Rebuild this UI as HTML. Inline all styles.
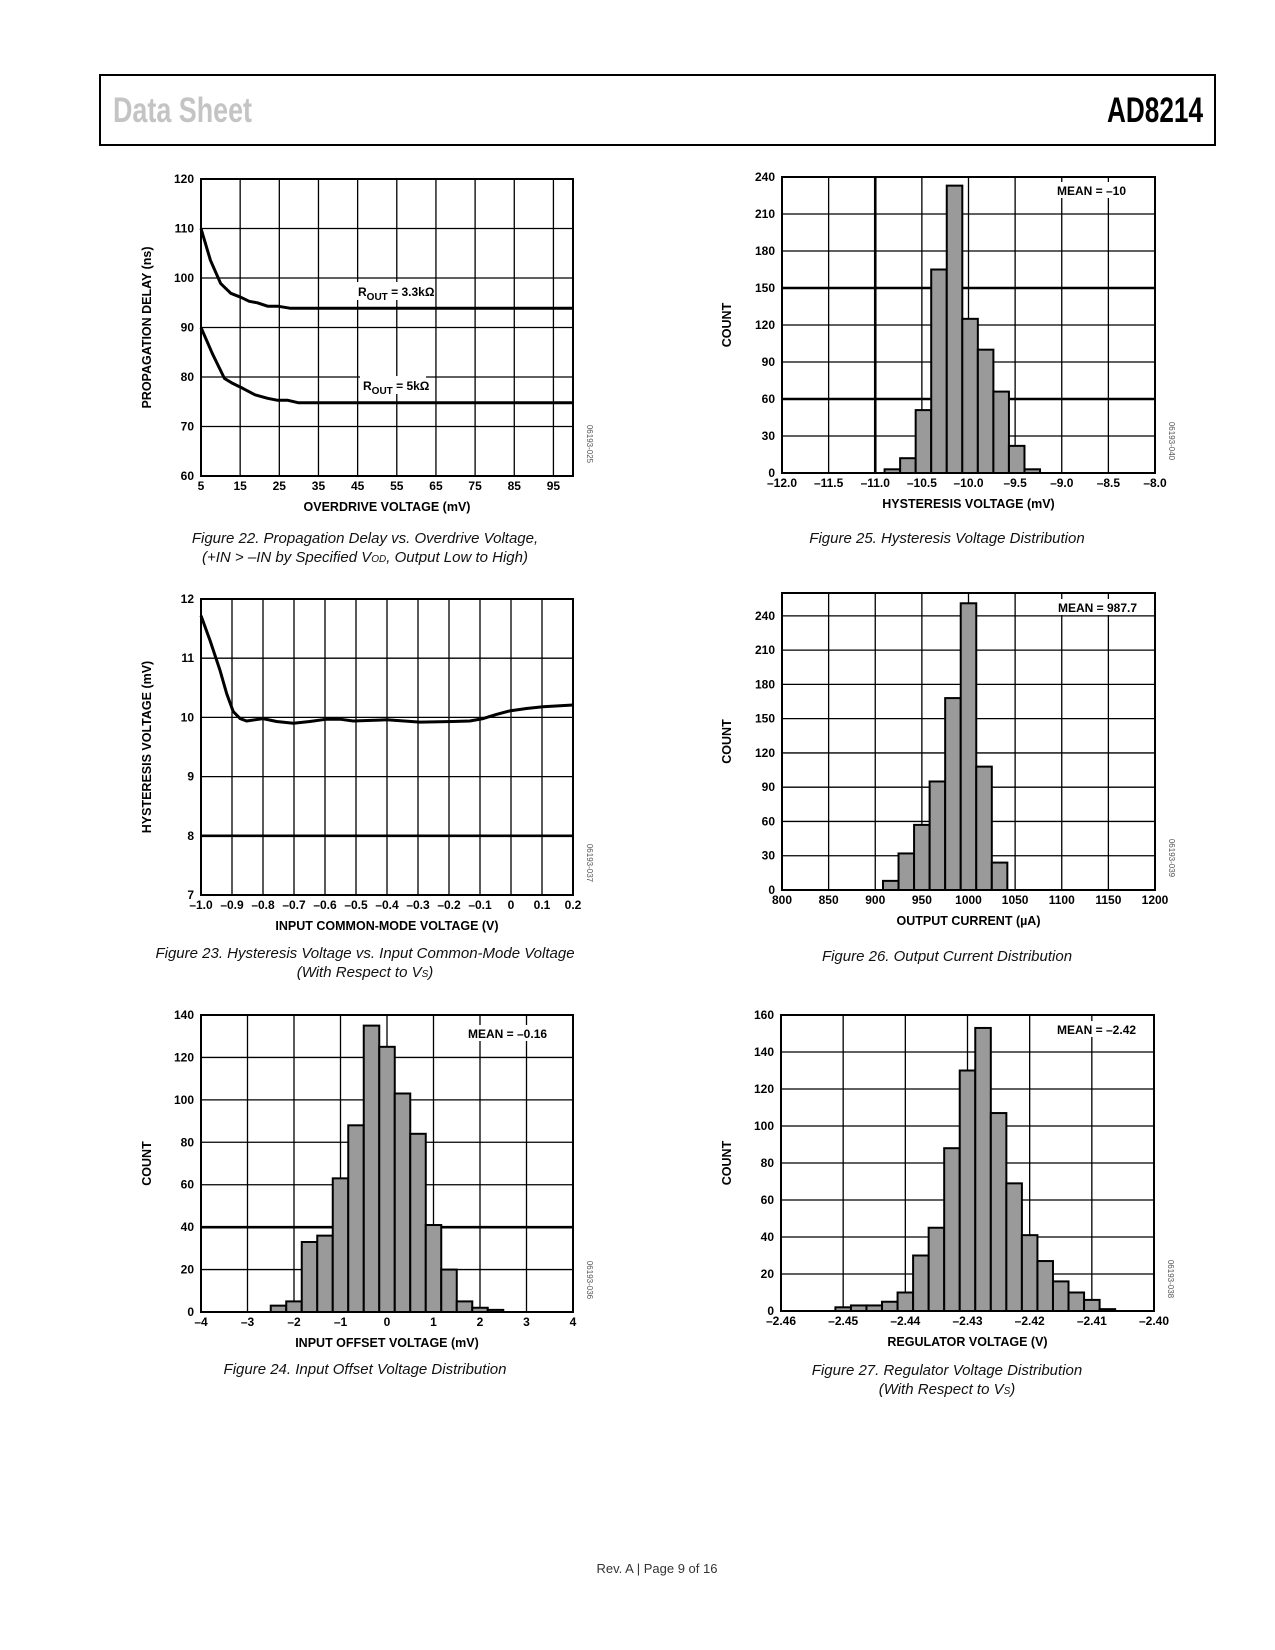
<!DOCTYPE html>
<html><head><meta charset="utf-8">
<style>
html,body{margin:0;padding:0;background:#fff;}
svg{display:block;font-family:"Liberation Sans",Arial,sans-serif;}
.tk{font-size:12px;font-weight:bold;fill:#000;}
.at{font-size:12.5px;font-weight:bold;fill:#000;}
.cap{font-size:15px;font-style:italic;fill:#111;}
.id{font-size:8px;fill:#555;}
</style></head>
<body>
<svg id="page" width="1275" height="1650" viewBox="0 0 1275 1650" xmlns="http://www.w3.org/2000/svg">
<rect x="100" y="75" width="1115" height="70" fill="none" stroke="#000" stroke-width="2"/>
<text x="113" y="122" textLength="139" lengthAdjust="spacingAndGlyphs" style="font-family:'Liberation Sans Narrow','Liberation Sans',sans-serif;font-weight:bold;font-size:35px;fill:#c4c4c4;">Data Sheet</text>
<text x="1107" y="122" textLength="96" lengthAdjust="spacingAndGlyphs" style="font-family:'Liberation Sans Narrow','Liberation Sans',sans-serif;font-weight:bold;font-size:35px;fill:#000;">AD8214</text>
<text class="cap" x="365" y="543" text-anchor="middle">Figure 22. Propagation Delay vs. Overdrive Voltage,</text>
<text class="cap" x="365" y="562" text-anchor="middle">(+IN &gt; –IN by Specified V<tspan font-size="10">OD</tspan>, Output Low to High)</text>
<text class="cap" x="365" y="958" text-anchor="middle">Figure 23. Hysteresis Voltage vs. Input Common-Mode Voltage</text>
<text class="cap" x="365" y="977" text-anchor="middle">(With Respect to V<tspan font-size="10">S</tspan>)</text>
<text class="cap" x="365" y="1374" text-anchor="middle">Figure 24. Input Offset Voltage Distribution</text>
<text class="cap" x="947" y="543" text-anchor="middle">Figure 25. Hysteresis Voltage Distribution</text>
<text class="cap" x="947" y="961" text-anchor="middle">Figure 26. Output Current Distribution</text>
<text class="cap" x="947" y="1375" text-anchor="middle">Figure 27. Regulator Voltage Distribution</text>
<text class="cap" x="947" y="1394" text-anchor="middle">(With Respect to V<tspan font-size="10">S</tspan>)</text>
<text x="657" y="1573" text-anchor="middle" style="font-size:13px;fill:#333;">Rev. A | Page 9 of 16</text>
</svg>
<script>
// ---- Figure 22 data ----
const f22UpperX=[5,7.4,10,12.6,15.2,17.3,19.4,22,24.6,27.7,100];
const f22UpperY=[110,103.6,98.9,96.9,96.1,95.3,95.0,94.3,94.3,93.9,93.9];
const f22LowerX=[5,7.9,11,13.1,15.7,18.8,22,24.6,27.2,29.8,100];
const f22LowerY=[90,84.7,79.7,78.7,77.7,76.4,75.7,75.3,75.3,74.8,74.8];
const f22XTicks=[5,15,25,35,45,55,65,75,85,95];
const f22YTicks=[60,70,80,90,100,110,120];
// ---- Figure 23 data ----
const f23X=[-1,-0.971,-0.939,-0.917,-0.896,-0.874,-0.853,-0.826,-0.8,-0.756,-0.702,-0.649,-0.595,-0.552,-0.509,-0.401,-0.294,-0.187,-0.133,-0.09,-0.047,-0.004,0.05,0.103,0.2];
const f23Y=[11.72,11.3,10.8,10.4,10.1,9.98,9.94,9.96,9.98,9.93,9.90,9.93,9.97,9.97,9.94,9.96,9.92,9.93,9.94,9.98,10.05,10.11,10.15,10.18,10.21];
const f23XTicks=[-1.0,-0.9,-0.8,-0.7,-0.6,-0.5,-0.4,-0.3,-0.2,-0.1,0,0.1,0.2];
const f23XLabels=["–1.0","–0.9","–0.8","–0.7","–0.6","–0.5","–0.4","–0.3","–0.2","–0.1","0","0.1","0.2"];
const f23YTicks=[7,8,9,10,11,12];
// ---- Figure 24 data ----
const f24Start=-2.5, f24Width=1/3;
const f24Counts=[3,5,33,36,63,88,135,125,103,84,41,20,5,2,1];
const f24XTicks=[-4,-3,-2,-1,0,1,2,3,4];
const f24XLabels=["–4","–3","–2","–1","0","1","2","3","4"];
const f24YTicks=[0,20,40,60,80,100,120,140];
// ---- Figure 25 data ----
const f25Start=-10.9, f25Width=0.1667;
const f25Counts=[3,12,51,165,233,125,100,66,22,3];
const f25XTicks=[-12,-11.5,-11,-10.5,-10,-9.5,-9,-8.5,-8];
const f25XLabels=["–12.0","–11.5","–11.0","–10.5","–10.0","–9.5","–9.0","–8.5","–8.0"];
const f25YTicks=[0,30,60,90,120,150,180,210,240];
// ---- Figure 26 data ----
const f26Start=908.3, f26Width=16.67;
const f26Counts=[8,32,57,95,168,251,108,24];
const f26XTicks=[800,850,900,950,1000,1050,1100,1150,1200];
const f26YTicks=[0,30,60,90,120,150,180,210,240];
// ---- Figure 27 data ----
const f27Start=-2.45125, f27Width=0.0025;
const f27Counts=[2,3,3,5,10,30,45,88,130,153,107,69,41,27,16,10,6,1];
const f27XTicks=[-2.46,-2.45,-2.44,-2.43,-2.42,-2.41,-2.40];
const f27XLabels=["–2.46","–2.45","–2.44","–2.43","–2.42","–2.41","–2.40"];
const f27YTicks=[0,20,40,60,80,100,120,140,160];

const NS="http://www.w3.org/2000/svg";
const page=document.getElementById('page');
function mk(tag,attrs,parent){const e=document.createElementNS(NS,tag);for(const k in attrs)e.setAttribute(k,attrs[k]);(parent||page).appendChild(e);return e;}

function makeChart(c){
  const g=mk('g',{});
  
  
  const sx=v=>c.x0+(v-c.xmin)/(c.xmax-c.xmin)*(c.x1-c.x0);
  const sy=v=>c.y1-(v-c.ymin)/(c.ymax-c.ymin)*(c.y1-c.y0);
  c.sx=sx;c.sy=sy;
  c.vgrid.forEach(v=>{const l=mk('line',{x1:sx(v),x2:sx(v),y1:c.y0,y2:c.y1,stroke:'#000','stroke-width':(c.thickV&&c.thickV.includes(v))?2.6:1.3},g);
    
    });
  c.hgrid.forEach(v=>{const l=mk('line',{x1:c.x0,x2:c.x1,y1:sy(v),y2:sy(v),stroke:'#000','stroke-width':(c.thickH&&c.thickH.includes(v))?2.6:1.3},g);
    
    });
  if(c.counts){
    c.counts.forEach((n,i)=>{const a=c.start+i*c.width,b=a+c.width;
      const r=mk('rect',{x:sx(a),y:sy(n),width:sx(b)-sx(a),height:sy(0)-sy(n),fill:'#9a9a9a',stroke:'#000','stroke-width':2},g);
      
      });
  }
  (c.series||[]).forEach(s=>{
    const d=s.x.map((v,i)=>(i?'L':'M')+sx(v).toFixed(1)+','+sy(s.y[i]).toFixed(1)).join(' ');
    const p=mk('path',{d:d,fill:'none',stroke:'#000','stroke-width':3,'stroke-linejoin':'round'},g);
    
    
  });
  const fr=mk('rect',{x:c.x0,y:c.y0,width:c.x1-c.x0,height:c.y1-c.y0,fill:'none',stroke:'#000','stroke-width':2},g);
  
  
  c.xticks.forEach((v,i)=>{const t=mk('text',{x:sx(v),y:c.y1+14,'text-anchor':'middle',class:'tk'},g);t.textContent=c.xlabels?c.xlabels[i]:String(v);
    
    });
  c.yticks.forEach((v,i)=>{const t=mk('text',{x:c.x0-7,y:sy(v)+4,'text-anchor':'end',class:'tk'},g);t.textContent=String(v);
    
    });
  const xt=mk('text',{x:(c.x0+c.x1)/2,y:c.y1+35,'text-anchor':'middle',class:'at'},g);xt.innerHTML=c.xtitle;
  
  
  const yx=c.ytx, yy=(c.y0+c.y1)/2;
  const yt=mk('text',{x:yx,y:yy,'text-anchor':'middle',class:'at',transform:`rotate(-90 ${yx} ${yy})`},g);yt.textContent=c.ytitle;
  
  
  const ix=c.x1+14, iy=c.y1-32;
  const id=mk('text',{x:ix,y:iy,'text-anchor':'middle',class:'id',transform:`rotate(90 ${ix} ${iy})`},g);id.textContent=c.id;
  
  
  if(c.mean){
    const bw=c.mean.w;
    const bg=mk('rect',{x:c.mean.x-4,y:c.mean.y-11,width:bw,height:16,fill:'#fff'},g);
    
    
    const m=mk('text',{x:c.mean.x,y:c.mean.y+2,class:'tk'},g);m.textContent=c.mean.t;
    
    
  }
  return c;
}

makeChart({name:'chart-fig22-propagation-delay',x0:201,x1:573,y0:179,y1:476,xmin:5,xmax:100,ymin:60,ymax:120,
  vgrid:[15,25,35,45,55,65,75,85,95],hgrid:[70,80,90,100,110],xticks:f22XTicks,yticks:f22YTicks,
  series:[{name:'series-rout-3k3',x:f22UpperX,y:f22UpperY},{name:'series-rout-5k',x:f22LowerX,y:f22LowerY}],
  xtitle:'OVERDRIVE VOLTAGE (mV)',ytitle:'PROPAGATION DELAY (ns)',ytx:151,id:'06193-025'});
[[358,294,'3.3kΩ','label-rout-3k3'],[363,388,'5kΩ','label-rout-5k']].forEach(a=>{
  const bg=mk('rect',{x:a[0]-3,y:a[1]-12,width:a[2].length>3?80:66,height:18,fill:'#fff'});
  
  
  const t=mk('text',{x:a[0],y:a[1]+2,style:'font-size:12px;font-weight:bold;'});
  t.innerHTML='R<tspan dy="4" font-size="10">OUT</tspan><tspan dy="-4"> = '+a[2]+'</tspan>';
  
  
});
makeChart({name:'chart-fig23-hysteresis-vs-cm',x0:201,x1:573,y0:599,y1:895,xmin:-1,xmax:0.2,ymin:7,ymax:12,
  vgrid:[-0.9,-0.8,-0.7,-0.6,-0.5,-0.4,-0.3,-0.2,-0.1,0,0.1],hgrid:[8,9,10,11],thickH:[8],
  xticks:f23XTicks,xlabels:f23XLabels,yticks:f23YTicks,series:[{name:'series-hysteresis',x:f23X,y:f23Y}],
  xtitle:'INPUT COMMON-MODE VOLTAGE (V)',ytitle:'HYSTERESIS VOLTAGE (mV)',ytx:151,id:'06193-037'});
makeChart({name:'chart-fig24-offset-distribution',x0:201,x1:573,y0:1015,y1:1312,xmin:-4,xmax:4,ymin:0,ymax:140,
  vgrid:[-3,-2,-1,0,1,2,3],hgrid:[20,40,60,80,100,120],thickH:[40],
  xticks:f24XTicks,xlabels:f24XLabels,yticks:f24YTicks,counts:f24Counts,start:f24Start,width:f24Width,
  xtitle:'INPUT OFFSET VOLTAGE (mV)',ytitle:'COUNT',ytx:151,id:'06193-036',mean:{x:468,y:1036,t:'MEAN = –0.16',w:88}});
makeChart({name:'chart-fig25-hysteresis-distribution',x0:782,x1:1155,y0:177,y1:473,xmin:-12,xmax:-8,ymin:0,ymax:240,
  vgrid:[-11.5,-11,-10.5,-10,-9.5,-9,-8.5],thickV:[-11],hgrid:[30,60,90,120,150,180,210],thickH:[60,150],
  xticks:f25XTicks,xlabels:f25XLabels,yticks:f25YTicks,counts:f25Counts,start:f25Start,width:f25Width,
  xtitle:'HYSTERESIS VOLTAGE (mV)',ytitle:'COUNT',ytx:731,id:'06193-040',mean:{x:1057,y:193,t:'MEAN = –10',w:76}});
makeChart({name:'chart-fig26-output-current-distribution',x0:782,x1:1155,y0:593,y1:890,xmin:800,xmax:1200,ymin:0,ymax:260,
  vgrid:[850,900,950,1000,1050,1100,1150],hgrid:[30,60,90,120,150,180,210,240],
  xticks:f26XTicks,yticks:f26YTicks,counts:f26Counts,start:f26Start,width:f26Width,
  xtitle:'OUTPUT CURRENT (µA)',ytitle:'COUNT',ytx:731,id:'06193-039',mean:{x:1058,y:610,t:'MEAN = 987.7',w:94}});
makeChart({name:'chart-fig27-regulator-distribution',x0:781,x1:1154,y0:1015,y1:1311,xmin:-2.46,xmax:-2.40,ymin:0,ymax:160,
  vgrid:[-2.45,-2.44,-2.43,-2.42,-2.41],hgrid:[20,40,60,80,100,120,140],
  xticks:f27XTicks,xlabels:f27XLabels,yticks:f27YTicks,counts:f27Counts,start:f27Start,width:f27Width,
  xtitle:'REGULATOR VOLTAGE (V)',ytitle:'COUNT',ytx:731,id:'06193-038',mean:{x:1057,y:1032,t:'MEAN = –2.42',w:86}});
</script>
</body></html>
